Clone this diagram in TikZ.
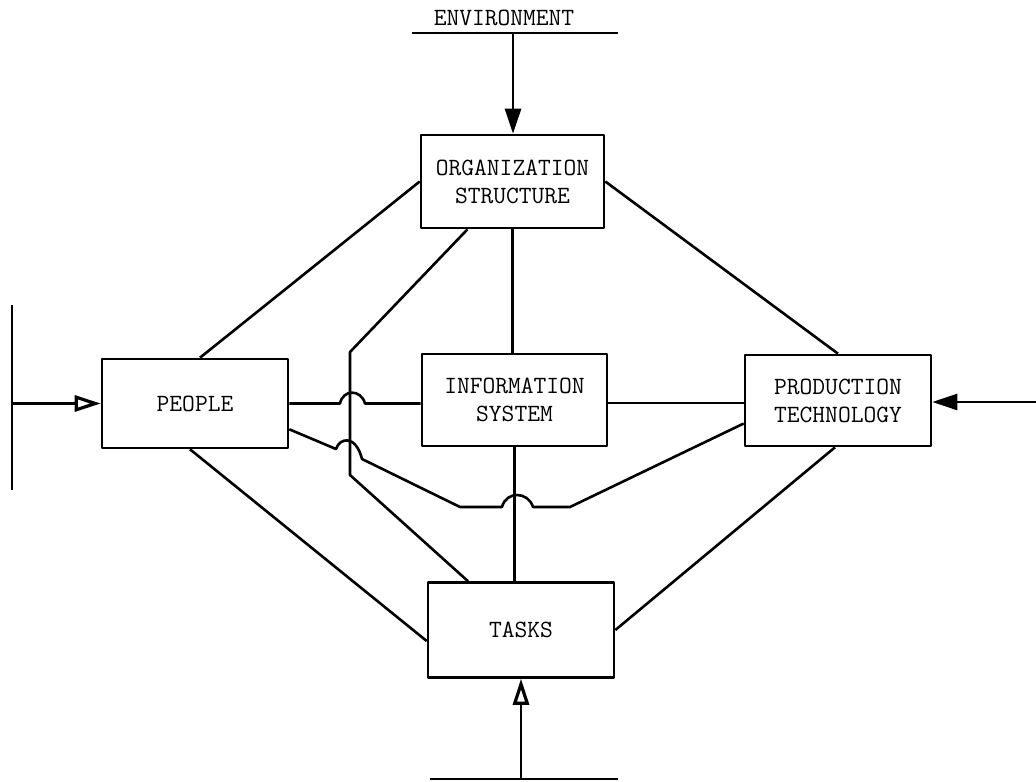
\documentclass[tikz,border=0pt]{standalone}
\usepackage{fontspec}
\usetikzlibrary{calc,arrows.meta}
\tikzset{
  box/.style={draw, rectangle, inner sep=0pt, align=center,
    font=\ttfamily\fontsize{12.4}{14}\selectfont},
  lbl/.style={inner sep=0pt, font=\ttfamily\fontsize{12.4}{14}\selectfont},
  arrF/.style={-{Triangle[length=12.5pt,width=8pt]}},
  arrO/.style={-{Triangle[open,length=13pt,width=8pt,line width=1.6pt]}},
}
\begin{document}
\begin{tikzpicture}[x=0.5pt,y=-0.5pt,line width=1.3pt,line join=round]
\useasboundingbox (0,0) rectangle (1036,781);
% boxes
\node[box, minimum width=91.5pt, minimum height=46.5pt] (org) at (512.5,181.5) {ORGANIZATION\\STRUCTURE};
\node[box, minimum width=93pt, minimum height=44.5pt] (people) at (195,403.5) {PEOPLE};
\node[box, minimum width=92.5pt, minimum height=46pt] (info) at (514.5,400) {INFORMATION\\SYSTEM};
\node[box, minimum width=93pt, minimum height=45.5pt] (prod) at (838,400.5) {PRODUCTION\\TECHNOLOGY};
\node[box, minimum width=93pt, minimum height=47.5pt] (tasks) at (521,630) {TASKS};
% environment (top)
\node[lbl] (env) at (504,18) {ENVIRONMENT};
\coordinate (envL) at (412,33);
\coordinate (envR) at (618,33);
\coordinate (envM) at (513,33);
\draw (envL) -- (envR);
\draw[arrF] (envM) -- (envM |- org.north);
% left input
\coordinate (lT) at (12,305);
\coordinate (lB) at (12,490);
\coordinate (lM) at (12,403.5);
\draw (lT) -- (lB);
\draw[arrO] (lM) -- (people.west);
% right input
\coordinate (rM) at (1036,402);
\draw[arrF] (rM) -- (rM -| prod.east);
% bottom input
\coordinate (bL) at (430,779);
\coordinate (bR) at (618,779);
\coordinate (bM) at (521,779);
\draw (bL) -- (bR);
\draw[arrO] (bM) -- (tasks.south);
% connectors
\draw (org.west) -- ($(people.north)+(5,0)$);
\draw (org.east) -- (prod.north);
\draw (org.south) -- (org.south |- info.north);
\draw (info.south) -- (info.south |- tasks.north);
\coordinate (ip) at ($(info.east)+(0,3)$);
\draw (ip) -- (ip -| prod.west);
\draw ($(people.south)+(-5,0)$) -- ($(tasks.west)+(0,11)$);
\draw ($(prod.south)+(-3,0)$) -- (tasks.east);
% organization -> tasks bent line
\coordinate (v1) at (350,352);
\coordinate (v2) at (350,475);
\draw ($(org.south)+(-45,0)$) -- (v1) -- (v2) -- ($(tasks.north)+(-53,0)$);
% people -> information with hop
\draw (people.east) -- (340,403.5) .. controls (343,389) and (361,389) .. (365,403.5) -- (people.east -| info.west);
% people -> production wave with hops
\draw ($(people.south east)+(0,-20)$) -- (336,449)
  .. controls (340,437) and (356,435) .. (362,459)
  -- (460,507) -- (502,507)
  .. controls (506,491) and (528,491) .. (533,507)
  -- (570,507) -- ($(prod.west)+(0,23)$);
\end{tikzpicture}
\end{document}
